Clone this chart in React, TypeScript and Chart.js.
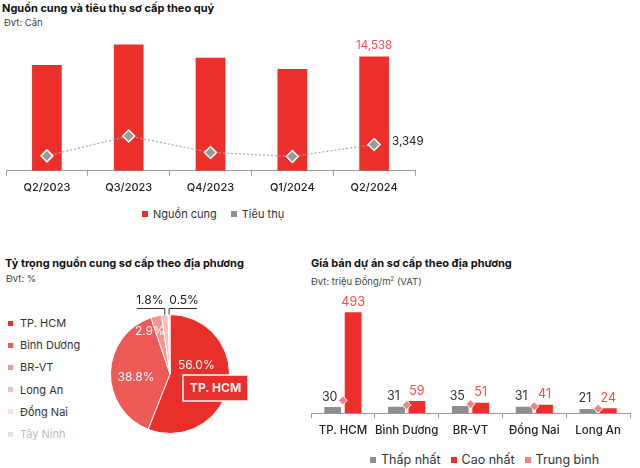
import React, { useEffect, useRef } from "react";
import { Chart, registerables } from "chart.js";

Chart.register(...registerables);

const FONT = "Inter, 'Noto Sans', sans-serif";
const RED = "#ec2f2a";
const GRAY = "#8e8e8e";

// ---- Chart 1: supply & absorption by quarter
const quarters = ["Q2/2023", "Q3/2023", "Q4/2023", "Q1/2024", "Q2/2024"];
const supply = [13450, 16050, 14370, 12940, 14538];
const absorption = [1900, 4420, 2330, 1820, 3349];

// ---- Chart 2: supply share by region
const regions = ["TP. HCM", "Bình Dương", "BR-VT", "Long An", "Đồng Nai", "Tây Ninh"];
const shares = [56.0, 38.8, 2.9, 1.8, 0.5, 0];
const shareColors = ["#e92f29", "#ee5a55", "#f29591", "#f6bfbd", "#fbdedd", "#e4e4e4"];

// ---- Chart 3: primary prices by region
const priceRegions = ["TP. HCM", "Bình Dương", "BR-VT", "Đồng Nai", "Long An"];
const priceMin = [30, 31, 35, 31, 21];
const priceMax = [493, 59, 51, 41, 24];
const priceAvg = [62, 40, 44, 34, 22];

const fmt = (v: number) => v.toLocaleString("en-US");

function ChartCanvas({ make, left, top, width, height }: any) {
  const ref = useRef<HTMLCanvasElement>(null);
  useEffect(() => {
    const chart = new Chart(ref.current as HTMLCanvasElement, make());
    return () => chart.destroy();
  }, []);
  return (
    <canvas
      ref={ref}
      width={width}
      height={height}
      style={{ position: "absolute", left, top, width, height }}
    />
  );
}

const axisX = (size: number, pad: number) => ({
  grid: { display: true, drawOnChartArea: false, offset: true, tickLength: 5, color: "#9a9a9a" },
  border: { display: true, color: "#9a9a9a" },
  ticks: {
    font: { family: FONT, size, weight: 500 },
    color: "#222",
    padding: pad,
    maxRotation: 0,
    minRotation: 0,
    autoSkip: false,
  },
});

const supplyChart = () => ({
  type: "bar",
  data: {
    labels: quarters,
    datasets: [
      {
        type: "bar",
        label: "Nguồn cung",
        data: supply,
        backgroundColor: RED,
        barPercentage: 0.363,
        categoryPercentage: 1,
        order: 2,
      },
      {
        type: "line",
        label: "Tiêu thụ",
        data: absorption,
        borderColor: "#a8a8a8",
        borderWidth: 1.2,
        borderDash: [2, 2],
        tension: 0,
        pointStyle: "rectRot",
        pointRadius: 6,
        pointBackgroundColor: "#9a9a9a",
        pointBorderColor: "#ffffff",
        pointBorderWidth: 1.5,
        order: 1,
      },
    ],
  },
  options: {
    responsive: false,
    animation: false,
    layout: { autoPadding: false, padding: { left: 6, right: 25, top: 0, bottom: 0 } },
    plugins: { legend: { display: false }, tooltip: { enabled: false } },
    scales: { x: axisX(11, 5), y: { display: false, min: 0, max: 17900 } },
  },
  plugins: [
    {
      id: "supplyLabels",
      afterDatasetsDraw(chart: any) {
        const ctx = chart.ctx;
        const n = supply.length - 1;
        const bar = chart.getDatasetMeta(0).data[n];
        const pt = chart.getDatasetMeta(1).data[n];
        ctx.save();
        ctx.font = `11.5px ${FONT}`;
        ctx.fillStyle = "#f2504a";
        ctx.textAlign = "center";
        ctx.textBaseline = "bottom";
        ctx.fillText(fmt(supply[n]), bar.x, bar.y - 5);
        ctx.fillStyle = "#222";
        ctx.textAlign = "left";
        ctx.textBaseline = "middle";
        ctx.fillText(fmt(absorption[n]), pt.x + 18, pt.y - 3);
        ctx.restore();
      },
    },
  ],
});

const pieNudge = [
  { r: 0.45, dx: 0, dy: -14 },
  { r: 0.57, dx: 0, dy: 4 },
  { r: 0.8, dx: -9, dy: 4 },
];

const shareChart = () => ({
  type: "pie",
  data: {
    labels: regions,
    datasets: [
      {
        data: shares,
        backgroundColor: shareColors,
        borderColor: "#ffffff",
        borderWidth: 1,
      },
    ],
  },
  options: {
    responsive: false,
    animation: false,
    layout: { padding: { left: 10, right: 30, top: 20, bottom: 10 } },
    plugins: { legend: { display: false }, tooltip: { enabled: false } },
  },
  plugins: [
    {
      id: "pieLabels",
      afterDatasetsDraw(chart: any) {
        const ctx = chart.ctx;
        const arcs = chart.getDatasetMeta(0).data;
        ctx.save();
        ctx.font = `12px ${FONT}`;
        ctx.textAlign = "center";
        ctx.textBaseline = "middle";
        arcs.forEach((arc: any, i: number) => {
          if (!shares[i]) return;
          const { x, y, startAngle, endAngle, outerRadius } = arc;
          const mid = (startAngle + endAngle) / 2;
          const text = shares[i].toFixed(1) + "%";
          if (i < 3) {
            const nd = pieNudge[i];
            ctx.fillStyle = "#ffffff";
            ctx.fillText(
              text,
              x + Math.cos(mid) * outerRadius * nd.r + nd.dx,
              y + Math.sin(mid) * outerRadius * nd.r + nd.dy
            );
          } else {
            const ex = x + Math.cos(mid) * outerRadius;
            const ey = y + Math.sin(mid) * outerRadius;
            const ly = y - outerRadius - 6;
            const dir = i === 3 ? -1 : 1;
            ctx.strokeStyle = "#333";
            ctx.lineWidth = 1;
            ctx.beginPath();
            ctx.moveTo(ex, ey);
            ctx.lineTo(ex, ly);
            ctx.lineTo(ex + dir * 28, ly);
            ctx.stroke();
            ctx.fillStyle = "#222";
            ctx.fillText(text, ex + dir * 15, ly - 8);
          }
        });
        // callout box for the largest slice
        const a0 = arcs[0];
        const bx = a0.x + 13;
        const by = a0.y + 1;
        ctx.fillStyle = "#e92f29";
        ctx.strokeStyle = "#ffffff";
        ctx.lineWidth = 1.5;
        ctx.fillRect(bx, by, 65, 26);
        ctx.strokeRect(bx, by, 65, 26);
        ctx.fillStyle = "#ffffff";
        ctx.font = `bold 12px ${FONT}`;
        ctx.fillText(regions[0], bx + 32.5, by + 13.5);
        ctx.restore();
      },
    },
  ],
});

const priceChart = () => ({
  type: "bar",
  data: {
    labels: priceRegions,
    datasets: [
      {
        type: "bar",
        label: "Thấp nhất",
        data: priceMin,
        backgroundColor: GRAY,
        categoryPercentage: 0.64,
        barPercentage: 0.82,
        order: 2,
      },
      {
        type: "bar",
        label: "Cao nhất",
        data: priceMax,
        backgroundColor: RED,
        categoryPercentage: 0.64,
        barPercentage: 0.82,
        order: 3,
      },
      {
        type: "line",
        label: "Trung bình",
        data: priceAvg,
        showLine: false,
        pointStyle: "rectRot",
        pointRadius: 4.5,
        pointBackgroundColor: "#f2837e",
        pointBorderColor: "#ffffff",
        pointBorderWidth: 1,
        order: 1,
      },
    ],
  },
  options: {
    responsive: false,
    animation: false,
    layout: { autoPadding: false, padding: { left: 6, right: 10, top: 0, bottom: 0 } },
    plugins: { legend: { display: false }, tooltip: { enabled: false } },
    scales: { x: axisX(11.5, 5), y: { display: false, min: 0, max: 601 } },
  },
  plugins: [
    {
      id: "priceLabels",
      afterDatasetsDraw(chart: any) {
        const ctx = chart.ctx;
        ctx.save();
        ctx.font = `12.5px ${FONT}`;
        ctx.textAlign = "center";
        ctx.textBaseline = "alphabetic";
        [priceMin, priceMax].forEach((arr, d) => {
          ctx.fillStyle = d === 0 ? "#333" : "#f2504a";
          chart.getDatasetMeta(d).data.forEach((b: any, i: number) => {
            ctx.fillText(String(arr[i]), b.x - (d === 0 ? 3 : 0), b.y - 6.5);
          });
        });
        ctx.restore();
      },
    },
  ],
});

const titleStyle: any = {
  position: "absolute",
  fontFamily: FONT,
  fontWeight: 700,
  fontSize: 11,
  color: "#111",
  whiteSpace: "nowrap",
  lineHeight: "14px",
};
const subStyle: any = {
  position: "absolute",
  fontFamily: FONT,
  fontSize: 9.5,
  color: "#444",
  whiteSpace: "nowrap",
  lineHeight: "12px",
};

function Legend({ items, left, top, size, gap }: any) {
  return (
    <div
      style={{
        position: "absolute",
        left,
        top,
        display: "flex",
        alignItems: "center",
        fontFamily: FONT,
        fontSize: size,
        color: "#333",
        whiteSpace: "nowrap",
      }}
    >
      {items.map((it: any, i: number) => (
        <div key={i} style={{ display: "flex", alignItems: "center", marginRight: gap }}>
          <span style={{ width: 6, height: 6, background: it.color, marginRight: 5, display: "inline-block" }} />
          <span>{it.label}</span>
        </div>
      ))}
    </div>
  );
}

export default function App() {
  return (
    <div
      style={{
        position: "fixed",
        left: 0,
        top: 0,
        width: 640,
        height: 468,
        background: "#fff",
        overflow: "hidden",
      }}
    >
      <div style={{ ...titleStyle, left: 2, top: 1 }}>Nguồn cung và tiêu thụ sơ cấp theo quý</div>
      <div style={{ ...subStyle, left: 4, top: 17 }}>Đvt: Căn</div>
      <ChartCanvas make={supplyChart} left={0} top={30} width={440} height={169} />
      <Legend
        left={142}
        top={207}
        size={11}
        gap={14}
        items={[
          { label: "Nguồn cung", color: RED },
          { label: "Tiêu thụ", color: GRAY },
        ]}
      />

      <div style={{ ...titleStyle, left: 5, top: 256 }}>Tỷ trọng nguồn cung sơ cấp theo địa phương</div>
      <div style={{ ...subStyle, left: 6, top: 273 }}>Đvt: %</div>
      <div style={{ position: "absolute", left: 8, top: 312, fontFamily: FONT, fontSize: 11 }}>
        {regions.map((r, i) => (
          <div key={r} style={{ display: "flex", alignItems: "center", height: 22.2 }}>
            <span style={{ width: 5, height: 5, background: shareColors[i], marginRight: 7, display: "inline-block" }} />
            <span style={{ color: i === regions.length - 1 ? "#bdbdbd" : "#333" }}>{r}</span>
          </div>
        ))}
      </div>
      <ChartCanvas make={shareChart} left={100} top={289} width={160} height={160} />

      <div style={{ ...titleStyle, left: 311, top: 256 }}>Giá bán dự án sơ cấp theo địa phương</div>
      <div style={{ ...subStyle, left: 311, top: 273 }}>
        Đvt: triệu Đồng/m<sup style={{ fontSize: 6 }}>2</sup> (VAT)
      </div>
      <ChartCanvas make={priceChart} left={305} top={290} width={335} height={152} />
      <Legend
        left={370}
        top={452}
        size={12.5}
        gap={10}
        items={[
          { label: "Thấp nhất", color: GRAY },
          { label: "Cao nhất", color: RED },
          { label: "Trung bình", color: "#f2837e" },
        ]}
      />
    </div>
  );
}
